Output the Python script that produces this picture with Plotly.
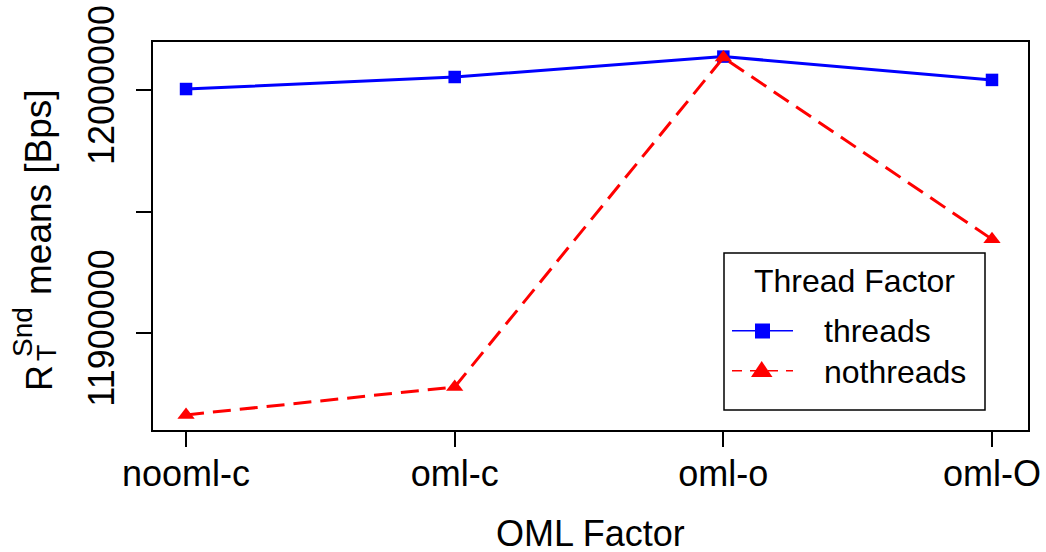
import plotly.graph_objects as go

categories = ["nooml-c", "oml-c", "oml-o", "oml-O"]
threads = [12000550, 12005500, 12013900, 12004300]
nothreads = [11866400, 11877900, 12013500, 11938700]
y_tick_vals = [11900000, 11950000, 12000000]
y_tick_text = ["11900000", "", "12000000"]
legend_title = "Thread Factor"
series_names = ["threads", "nothreads"]

FONT = "Liberation Sans, Arial, Helvetica, sans-serif"
W, H = 1046, 552
L, R, T, B = 153, 1028, 42, 430
PW, PH = R - L, B - T


def px(x):
    return (x - L) / PW


def py(y):
    return (B - y) / PH


xs = list(range(1, len(categories) + 1))

fig = go.Figure()
fig.add_trace(go.Scatter(
    x=xs, y=threads, name=series_names[0], mode="lines+markers",
    line=dict(color="#0000ff", width=3),
    marker=dict(symbol="square", size=12.5, color="#0000ff"),
))
fig.add_trace(go.Scatter(
    x=xs, y=nothreads, name=series_names[1], mode="lines+markers",
    line=dict(color="#ff0000", width=3, dash="18px,9px"),
    marker=dict(symbol="triangle-up", size=15, color="#ff0000"),
))

fig.update_layout(
    width=W, height=H,
    margin=dict(l=L, r=W - R, t=T, b=H - B, autoexpand=False),
    paper_bgcolor="white", plot_bgcolor="white",
    font=dict(family=FONT, size=36, color="black"),
    showlegend=False,
    xaxis=dict(
        range=[0.877, 4.134], tickvals=xs, ticktext=categories,
        showgrid=False, zeroline=False, showline=True, mirror=True,
        linecolor="black", linewidth=1.5, ticks="outside", ticklen=15,
        tickcolor="black", tickwidth=1.5, tickfont=dict(size=36),
        automargin=False, ticklabelstandoff=-4,
    ),
    yaxis=dict(
        range=[11860180, 12019910], tickvals=y_tick_vals, ticktext=y_tick_text,
        showgrid=False, zeroline=False, showline=True, mirror=True,
        linecolor="black", linewidth=1.5, ticks="outside", ticklen=15,
        tickcolor="black", tickwidth=1.5, tickangle=-90, tickfont=dict(size=36),
        automargin=False, ticklabelstandoff=8,
    ),
)

# axis titles and legend texts
ann = [
    dict(text="OML Factor", x=px(590.5), y=py(533), size=36, angle=0, xa="center", h=36),
    dict(text="means [Bps]", x=px(39), y=py(192), size=37, angle=-90, xa="center"),
    dict(text="R", x=px(39), y=py(378), size=36, angle=-90, xa="center"),
    dict(text="Snd", x=px(22), y=py(332), size=28, angle=-90, xa="center"),
    dict(text="T", x=px(47), y=py(353), size=27, angle=-90, xa="center"),
    dict(text=legend_title, x=px(854.5), y=py(280.5), size=32, angle=0, xa="center"),
    dict(text=series_names[0], x=px(822), y=py(330.7), size=32, angle=0, xa="left"),
    dict(text=series_names[1], x=px(822), y=py(371.7), size=32, angle=0, xa="left"),
]
for a in ann:
    kw = dict(
        text=a["text"], x=a["x"], y=a["y"], xref="paper", yref="paper",
        xanchor=a["xa"], yanchor="middle", showarrow=False,
        textangle=a["angle"], font=dict(size=a["size"], family=FONT, color="black"),
    )
    if "h" in a:
        kw.update(height=a["h"], valign="middle")
    fig.add_annotation(**kw)

# legend frame and keys
shapes = [
    dict(type="rect", x0=px(724), x1=px(985), y0=py(410), y1=py(253),
         line=dict(color="black", width=1.5), fillcolor="white", layer="above"),
    dict(type="line", x0=px(732), x1=px(793), y0=py(330.7), y1=py(330.7),
         line=dict(color="#0000ff", width=1.5)),
    dict(type="line", x0=px(732), x1=px(793), y0=py(370.7), y1=py(370.7),
         line=dict(color="#ff0000", width=1.5, dash="10px,8px")),
    dict(type="rect", x0=px(755), x1=px(770), y0=py(338.5), y1=py(323.5),
         line=dict(width=0), fillcolor="#0000ff"),
]
for s in shapes:
    s.update(xref="paper", yref="paper")
    fig.add_shape(**s)

tri = "M {},{} L {},{} L {},{} Z".format(
    px(751), py(377), px(772.5), py(377), px(761.7), py(361))
fig.add_shape(type="path", path=tri, xref="paper", yref="paper",
              line=dict(width=0), fillcolor="#ff0000")

fig.write_html("out.html")
